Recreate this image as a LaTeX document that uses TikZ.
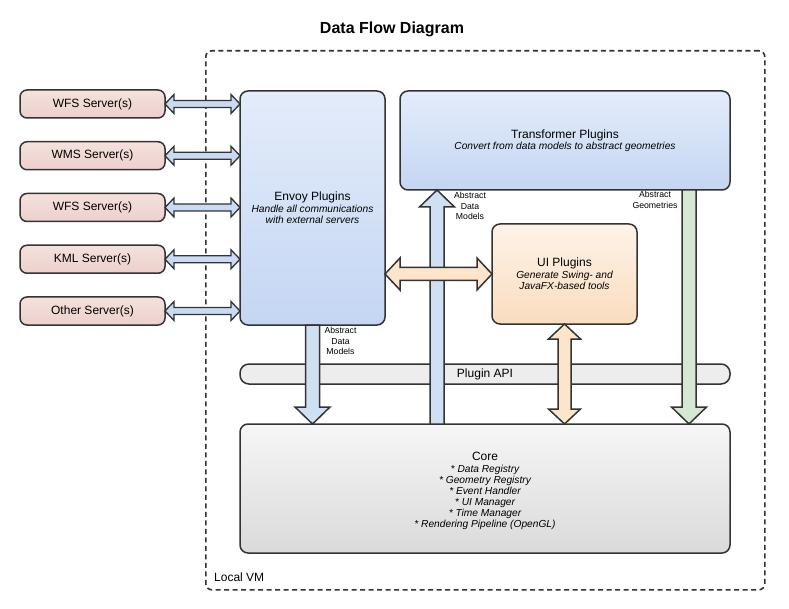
\documentclass[tikz,border=0pt]{standalone}
\usepackage{fontspec}
\setmainfont{Liberation Sans}
\usepackage{xcolor}
\usetikzlibrary{positioning,calc}

\definecolor{edge}{HTML}{333333}
\definecolor{plugtop}{RGB}{228,236,250}
\definecolor{plugbot}{RGB}{196,214,243}
\definecolor{uitop}{RGB}{253,243,233}
\definecolor{uibot}{RGB}{250,220,190}
\definecolor{coretop}{RGB}{246,246,246}
\definecolor{corebot}{RGB}{218,218,218}
\definecolor{srvtop}{RGB}{245,225,221}
\definecolor{srvbot}{RGB}{236,208,204}
\definecolor{bluefill}{RGB}{206,224,242}
\definecolor{srvfill}{RGB}{201,218,245}
\definecolor{orgfill}{RGB}{253,229,204}
\definecolor{grnfill}{RGB}{213,232,212}

\newcommand{\boxtitle}[1]{{\upshape\fontsize{12}{14}\selectfont #1}}

\tikzset{
  box/.style={rectangle, draw=edge, line width=1.5pt, rounded corners=8pt, outer sep=0pt, inner sep=0pt, align=center},
  plugin/.style={box, top color=plugtop, bottom color=plugbot},
  desc/.style={font=\itshape\fontsize{10.2}{11}\selectfont},
  server/.style={box, rounded corners=7pt, minimum width=145pt, minimum height=28pt, top color=srvtop, bottom color=srvbot},
  arr/.style={draw=edge, line width=1.5pt},
  bluearr/.style={arr, fill=bluefill},
  srvarr/.style={arr, line width=1.3pt, fill=srvfill},
  orgarr/.style={arr, fill=orgfill},
  grnarr/.style={arr, fill=grnfill},
  smalllbl/.style={align=center, font=\fontsize{8.7}{10.5}\selectfont, inner sep=0pt}
}

% block arrows between two points
\newcommand{\onearrow}[6][]{%
  \coordinate (ae) at ($(#3)!#6!(#2)$);
  \draw[#1] ($(#2)!#4!90:(#3)$) -- ($(ae)!#4!90:(#3)$) -- ($(ae)!#5!90:(#3)$) -- (#3)
    -- ($(ae)!#5!-90:(#3)$) -- ($(ae)!#4!-90:(#3)$) -- ($(#2)!#4!-90:(#3)$) -- cycle;}
\newcommand{\twoarrow}[6][]{%
  \coordinate (ab) at ($(#2)!#6!(#3)$);
  \coordinate (ae) at ($(#3)!#6!(#2)$);
  \draw[#1] (#2) -- ($(ab)!#5!90:(#3)$) -- ($(ab)!#4!90:(#3)$) -- ($(ae)!#4!90:(#3)$) -- ($(ae)!#5!90:(#3)$) -- (#3)
    -- ($(ae)!#5!-90:(#3)$) -- ($(ae)!#4!-90:(#3)$) -- ($(ab)!#4!-90:(#3)$) -- ($(ab)!#5!-90:(#3)$) -- cycle;}

\begin{document}
\begin{tikzpicture}[x=1pt, y=-1pt, every node/.style={font=\fontsize{12}{14}\selectfont}]
\useasboundingbox (0,0) rectangle (789,609);

\node[font=\bfseries\fontsize{16}{19}\selectfont] (title) at (392,29) {Data Flow Diagram};

% local vm
\node[rectangle, draw=edge, line width=1.6pt, dash pattern=on 5pt off 3.5pt, rounded corners=6pt, minimum width=559pt, minimum height=539pt, anchor=north west] (vm) at (205,50) {};
\node[anchor=west, inner sep=0pt] (vmlbl) at ($(vm.south west)+(9,-13)$) {Local VM};

% servers
\node[server, anchor=north west] (wfsa) at (20,90) {WFS Server(s)};
\node[server, below=23.75pt of wfsa] (wms) {WMS Server(s)};
\node[server, below=23.75pt of wms] (wfsb) {WFS Server(s)};
\node[server, below=23.75pt of wfsb] (kml) {KML Server(s)};
\node[server, below=23.75pt of kml] (other) {Other Server(s)};

% plugins
\node[plugin, desc, minimum width=145pt, minimum height=234pt, anchor=north west] (envoy) at (240,91)
  {\boxtitle{Envoy Plugins}\\[1pt] Handle all communications\\ with external servers};
\node[plugin, desc, minimum width=330pt, minimum height=99pt, anchor=north west] (transformer) at (400,91)
  {\boxtitle{Transformer Plugins}\\ Convert from data models to abstract geometries};
\node[box, desc, top color=uitop, bottom color=uibot, minimum width=145pt, minimum height=100pt, anchor=north west] (ui) at (492,224)
  {\boxtitle{UI Plugins}\\[1pt] Generate Swing- and\\ JavaFX-based tools};

\node[box, rounded corners=9pt, fill=black!7, minimum width=490pt, minimum height=20pt, anchor=north west] (api) at (240,364) {Plugin API};

\node[box, top color=coretop, bottom color=corebot, minimum width=490pt, minimum height=129pt, anchor=north west] (core) at (240,424) {};
\node[desc, align=center, inner sep=0pt] (coretxt) at ($(core.center)+(0,2.5)$)
  {\boxtitle{Core}\\[1pt] * Data Registry\\ * Geometry Registry\\ * Event Handler\\ * UI Manager\\ * Time Manager\\ * Rendering Pipeline (OpenGL)};

% arrow ends
\coordinate (a1) at (envoy.south |- core.north);
\coordinate (dm) at ($(transformer.south west)+(37,0)$);
\coordinate (dm2) at (dm |- core.north);
\coordinate (ag) at ($(transformer.south east)+(-41,0)$);
\coordinate (ag2) at (ag |- core.north);
\coordinate (ui1) at (ui.west -| envoy.east);
\coordinate (ui2) at (ui.south |- core.north);

\foreach \s in {wfsa,wms,wfsb,kml,other}{
  \coordinate (\s-e) at (\s.east -| envoy.west);
  \twoarrow[srvarr]{\s.east}{\s-e}{3.5pt}{9.5pt}{9pt}
}

\onearrow[bluearr]{envoy.south}{a1}{7pt}{17.5pt}{17pt}
\onearrow[bluearr]{dm2}{dm}{7pt}{17.5pt}{17pt}
\onearrow[grnarr]{ag}{ag2}{7pt}{17.5pt}{17pt}
\twoarrow[orgarr]{ui1}{ui.west}{6.5pt}{16pt}{15pt}
\twoarrow[orgarr]{ui.south}{ui2}{6.5pt}{16pt}{15pt}

% labels
\node[smalllbl] (lbl1) at ($(envoy.south)+(28,16)$) {Abstract\\Data\\Models};
\node[smalllbl] (lbl2) at ($(transformer.south west)+(70,16)$) {Abstract\\Data\\Models};
\node[smalllbl] (lbl3) at ($(transformer.south east)+(-75,10)$) {Abstract\\Geometries};
\end{tikzpicture}
\end{document}
